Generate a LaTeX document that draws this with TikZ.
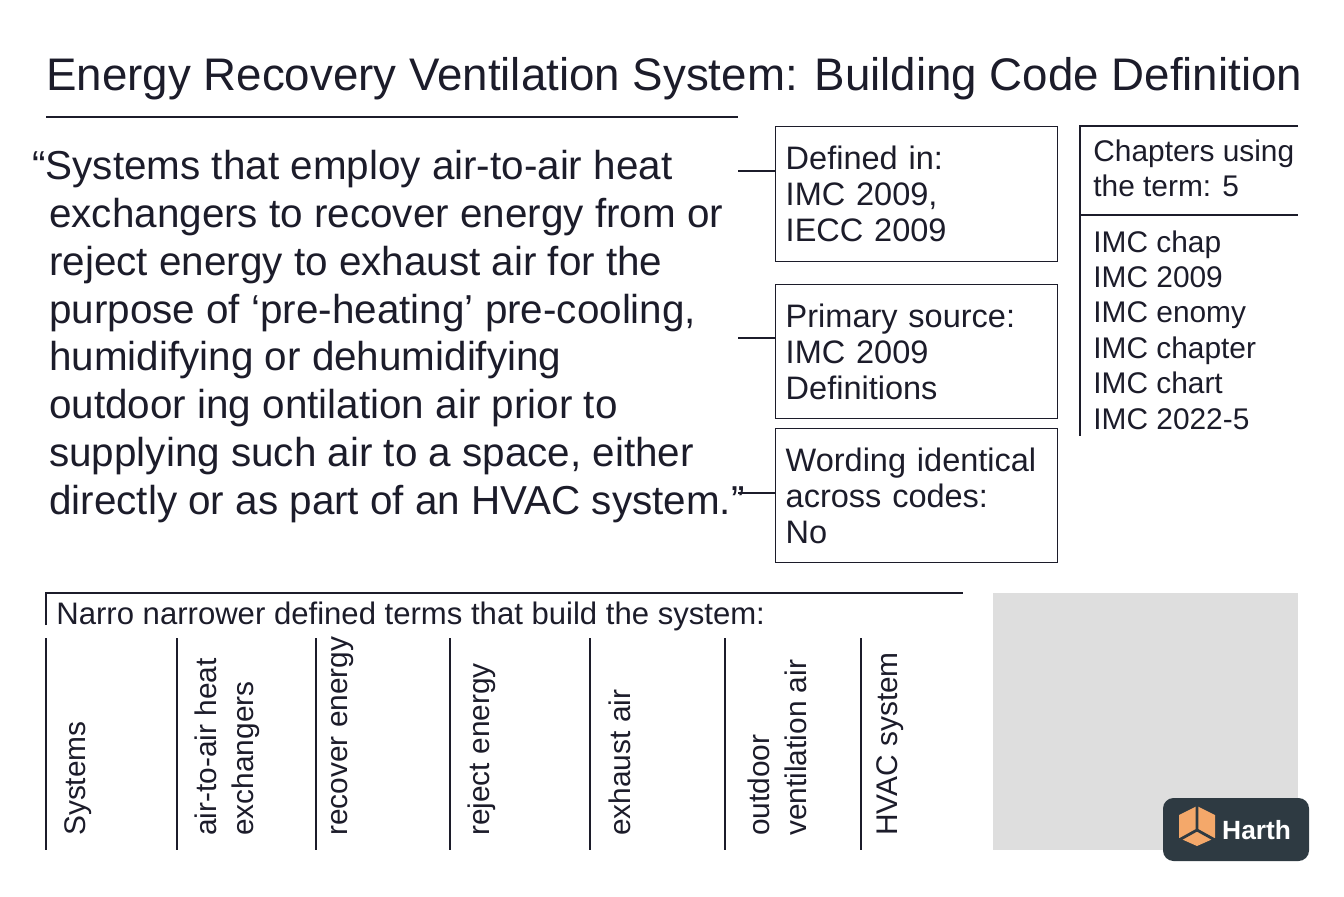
\documentclass[tikz,border=0pt]{standalone}
\usepackage{fontspec}
\setmainfont{Liberation Sans}
\usepackage{tikz}
\usetikzlibrary{positioning}
\definecolor{inkc}{HTML}{1C1C2A}
\definecolor{panelgray}{HTML}{DEDEDE}
\definecolor{logodark}{HTML}{2E3A42}
\definecolor{logoorange}{HTML}{F4A86A}
\tikzset{
  infobox/.style={draw=inkc, line width=0.8pt, minimum width=282*0.02cm, anchor=north west, align=left, text width=262*0.02cm, inner sep=5pt, font=\fontsize{18.5}{20.4}\selectfont, text=inkc},
  rule/.style={draw=inkc, line width=0.7pt},
  termlabel/.style={rotate=90, anchor=west, align=left, font=\fontsize{17}{21}\selectfont, text=inkc},
}
\begin{document}
\begin{tikzpicture}[x=0.02cm, y=-0.02cm]
            \useasboundingbox (0,0) rectangle (1344,896);
            % title
            \node[anchor=base west, inner sep=0, text=inkc, font=\fontsize{26}{30}\selectfont] (title) at (46,90) {Energy Recovery Ventilation System: Building Code Definition};
            \coordinate (tl) at (46,117);
            \coordinate (tr) at (738,117);
            \draw[rule] (tl) -- (tr);
            % quotation
            \node[anchor=north west, inner sep=0, align=left, text=inkc, font=\fontsize{23}{27.2}\selectfont] (quote) at (32,150) {%
            “Systems that employ air-to-air heat\\
            \hspace*{0.42em}exchangers to recover energy from or\\
            \hspace*{0.42em}reject energy to exhaust air for the\\
            \hspace*{0.42em}purpose of ‘pre-heating’ pre-cooling,\\
            \hspace*{0.42em}humidifying or dehumidifying\\
            \hspace*{0.42em}outdoor ing ontilation air prior to\\
            \hspace*{0.42em}supplying such air to a space, either\\
            \hspace*{0.42em}directly or as part of an HVAC system.”};
            % info boxes
            \node[infobox, minimum height=135*0.02cm] (defined) at (775,126) {Defined in:\\IMC 2009,\\IECC 2009};
            \node[infobox, minimum height=134*0.02cm] (source) at (775,284) {Primary source:\\IMC 2009\\Definitions};
            \node[infobox, minimum height=134*0.02cm] (wording) at (775,428) {Wording identical\\across codes:\\No};
            \coordinate (c1) at (738,171);
            \coordinate (c2) at (738,338);
            \coordinate (c3) at (738,493);
            \draw[rule] (c1) -- (c1 -| defined.west);
            \draw[rule] (c2) -- (c2 -| source.west);
            \draw[rule] (c3) -- (c3 -| wording.west);
            % chapters panel
            \coordinate (pa) at (1080,126);
            \coordinate (pb) at (1298,126);
            \coordinate (pc) at (1080,436);
            \coordinate (pm) at (1080,215);
            \coordinate (pn) at (1298,215);
            \draw[rule] (pb) -- (pa) -- (pc);
            \draw[rule] (pm) -- (pn);
            \node[anchor=north west, align=left, inner sep=0, text=inkc, font=\fontsize{17}{19.5}\selectfont] (chaphead) at (1093,140) {Chapters using\\the term: 5};
            \node[anchor=north west, align=left, inner sep=0, text=inkc, font=\fontsize{17}{20.2}\selectfont] (chaplist) at (1093,230) {IMC chap\\IMC 2009\\IMC enomy\\IMC chapter\\IMC chart\\IMC 2022-5};
            % narrower terms
            \coordinate (na) at (46,625);
            \coordinate (nb) at (46,593);
            \coordinate (nc) at (963,593);
            \draw[rule] (na) -- (nb) -- (nc);
            \node[anchor=base west, inner sep=0, text=inkc, font=\fontsize{17.7}{20}\selectfont] (narrow) at (56,624) {Narro narrower defined terms that build the system:};
            \foreach \x [count=\i] in {46,177,316,450,590,725,861} {
              \coordinate (dt\i) at (\x,638);
              \coordinate (db\i) at (\x,850);
              \draw[rule] (dt\i) -- (db\i);
            }
            \node[termlabel] (t1) at (78,842) {Systems};
            \node[termlabel] (t2) at (227,842) {air-to-air heat\\exchangers};
            \node[termlabel] (t3) at (343,842) {recover energy};
            \node[termlabel] (t4) at (482,842) {reject energy};
            \node[termlabel] (t5) at (620,842) {exhaust air};
            \node[termlabel] (t6) at (777,842) {outdoor\\ventilation air};
            \node[termlabel] (t7) at (890,842) {HVAC system};
            % placeholder panel and logo
            \fill[panelgray] (993,593) rectangle (1298,850);
            \fill[logodark, rounded corners=6pt] (1163,798) rectangle (1309,861);
            \fill[logoorange] (1179,815) -- (1197,806) -- (1215,815) -- (1215,838) -- (1197,846) -- (1179,838) -- cycle;
            \draw[logodark, line width=1.6pt] (1197,806) -- (1197,830) -- (1179,840) (1197,830) -- (1215,840);
            \node[anchor=west, text=white, font=\fontsize{15}{18}\selectfont\bfseries] (logo) at (1216,830) {Harth};
\end{tikzpicture}
\end{document}
